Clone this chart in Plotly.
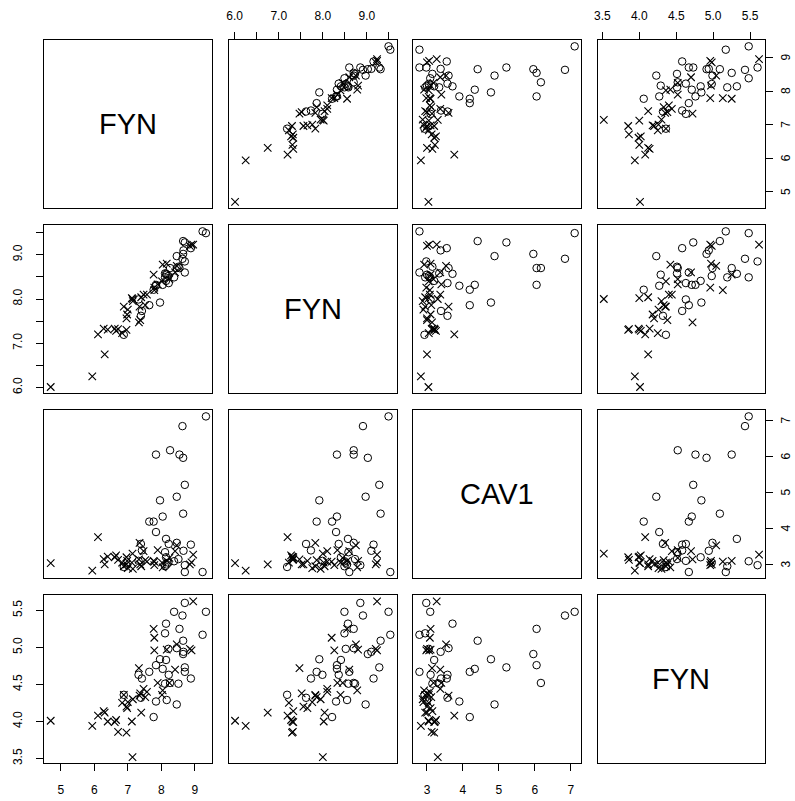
import plotly.graph_objects as go

# ---------------- data ----------------
var_labels = ["FYN", "FYN", "CAV1", "FYN"]

# group drawn with open circles
circ_v1 = [7.77, 7.32, 7.42, 6.88, 7.39, 7.64, 7.84, 7.96, 8.14, 8.04, 8.14, 8.11, 8.21, 8.38, 8.54, 8.70, 8.63,
           8.65, 8.46, 8.65, 8.70, 8.70, 8.22, 8.11, 8.26, 8.16, 8.46, 8.51, 8.88, 9.23, 9.33, 7.84, 8.66]
circ_v2 = [8.21, 7.99, 7.73, 7.19, 7.62, 7.86, 8.30, 7.92, 8.41, 8.32, 8.57, 8.49, 8.52, 8.49, 8.70, 8.85, 8.91,
           9.31, 8.70, 9.02, 9.28, 8.60, 8.36, 8.58, 8.70, 8.55, 8.97, 8.73, 9.15, 9.53, 9.49, 8.32, 9.10]
circ_v3 = [4.19, 3.10, 3.39, 2.93, 3.57, 4.19, 3.90, 4.78, 3.20, 4.33, 3.71, 2.95, 3.05, 3.09, 6.05, 2.98, 6.84,
           4.41, 3.60, 5.96, 5.21, 2.79, 3.57, 3.34, 6.17, 3.00, 4.88, 3.15, 3.55, 2.79, 7.11, 6.05, 3.38]
circ_v4 = [4.06, 4.63, 4.58, 4.36, 4.32, 4.67, 4.27, 4.84, 4.83, 4.71, 5.32, 5.19, 4.98, 5.48, 5.25, 5.60, 5.43,
           5.09, 4.99, 4.91, 4.73, 4.67, 4.63, 4.51, 4.52, 4.29, 4.23, 4.51, 4.58, 5.17, 5.48, 4.76, 4.94]

# group drawn with crosses
cross_v1 = [4.70, 5.94, 6.11, 6.28, 6.31, 6.40, 6.61, 6.65, 6.71, 6.96, 6.83, 6.88, 6.98, 7.00, 6.96, 7.12, 7.14,
            7.15, 7.33, 7.37, 7.40, 7.52, 7.57, 7.77, 7.79, 7.79, 7.89, 8.02, 8.04, 8.24, 8.41, 8.46, 8.85, 8.90,
            8.95, 8.16, 7.35, 7.47]
cross_v2 = [6.01, 6.25, 7.20, 7.33, 6.75, 7.31, 7.33, 7.28, 7.32, 7.30, 7.23, 7.83, 7.65, 7.76, 7.56, 8.02, 8.00,
            7.95, 7.47, 7.52, 8.04, 7.86, 8.10, 8.55, 8.20, 8.26, 8.33, 8.40, 8.78, 8.45, 8.60, 8.75, 9.20, 9.23,
            9.23, 8.80, 7.83, 8.10]
cross_v3 = [3.04, 2.83, 3.76, 3.15, 3.00, 3.22, 3.20, 3.25, 3.13, 3.20, 3.05, 2.95, 3.10, 2.90, 3.00, 3.05, 3.30,
            2.88, 3.14, 3.00, 2.95, 3.12, 3.08, 3.10, 3.08, 2.98, 3.40, 3.05, 2.92, 3.18, 3.37, 3.53, 3.00, 3.06,
            3.27, 3.10, 3.60, 3.37]
cross_v4 = [4.01, 3.94, 4.08, 4.14, 4.12, 4.00, 3.99, 4.02, 3.86, 3.85, 4.25, 4.36, 4.18, 4.26, 4.20, 4.00, 3.52,
            4.30, 4.72, 4.38, 4.12, 4.33, 4.40, 5.25, 5.13, 4.96, 4.52, 4.36, 4.42, 4.52, 4.70, 5.04, 4.98, 4.96,
            5.62, 4.97, 4.35, 4.44]

tick_vals = [
    [5, 6, 7, 8, 9],
    [6.0, 6.5, 7.0, 7.5, 8.0, 8.5, 9.0, 9.5],
    [3, 4, 5, 6, 7],
    [3.5, 4.0, 4.5, 5.0, 5.5],
]
tick_text = [
    ["5", "6", "7", "8", "9"],
    ["6.0", "", "7.0", "", "8.0", "", "9.0", ""],
    ["3", "4", "5", "6", "7"],
    ["3.5", "4.0", "4.5", "5.0", "5.5"],
]

# ---------------- layout geometry ----------------
W, H = 795, 801
left0, top0 = 40.7, 40.2
size = 168.5
pitch_x, pitch_y = 185.3, 185.5
right_label_px = 786.0

circ = [circ_v1, circ_v2, circ_v3, circ_v4]
cross = [cross_v1, cross_v2, cross_v3, cross_v4]


def rng(vals):
    lo, hi = min(vals), max(vals)
    pad = 0.04 * (hi - lo)
    return [lo - pad, hi + pad]


ranges = [rng(circ[i] + cross[i]) for i in range(4)]

FONT = "Liberation Sans, Arial, Helvetica, sans-serif"
fig = go.Figure()
layout = dict(
    width=W, height=H,
    margin=dict(l=0, r=0, t=0, b=0),
    paper_bgcolor="white", plot_bgcolor="white",
    showlegend=False,
    font=dict(family=FONT, size=12, color="black"),
)
annotations = []

for r in range(4):
    for c in range(4):
        idx = r * 4 + c + 1
        sfx = "" if idx == 1 else str(idx)
        x0 = left0 + c * pitch_x
        y0 = top0 + r * pitch_y
        xdom = [x0 / W, (x0 + size) / W]
        ydom = [1 - (y0 + size) / H, 1 - y0 / H]

        xa = dict(domain=xdom, anchor="y" + sfx, range=ranges[c], showgrid=False, zeroline=False,
                  showline=True, mirror=True, linecolor="black", linewidth=1,
                  ticks="", showticklabels=False, fixedrange=True)
        ya = dict(domain=ydom, anchor="x" + sfx, range=ranges[r], showgrid=False, zeroline=False,
                  showline=True, mirror=True, linecolor="black", linewidth=1,
                  ticks="", showticklabels=False, fixedrange=True)

        if (r == 3 and c % 2 == 0) or (r == 0 and c % 2 == 1):
            xa.update(side="bottom" if r == 3 else "top", ticks="outside", ticklen=7, tickwidth=1,
                      tickcolor="black", showticklabels=True, tickmode="array",
                      tickvals=tick_vals[c], ticktext=tick_text[c],
                      ticklabelstandoff=8 if r == 3 else 7,
                      tickfont=dict(family=FONT, size=12, color="black"))
        if c == 0 and r % 2 == 1:
            ya.update(side="left", ticks="outside", ticklen=7, tickwidth=1,
                      tickcolor="black", showticklabels=True, tickmode="array",
                      tickvals=tick_vals[r], ticktext=tick_text[r], tickangle=-90,
                      ticklabelstandoff=10,
                      tickfont=dict(family=FONT, size=12, color="black"))
        if c == 3 and r % 2 == 0:
            ya.update(side="right", ticks="outside", ticklen=7, tickwidth=1,
                      tickcolor="black", showticklabels=False, tickmode="array",
                      tickvals=tick_vals[r])
            for v, t in zip(tick_vals[r], tick_text[r]):
                annotations.append(dict(
                    xref="paper", yref="y" + sfx, x=right_label_px / W, y=v, text=t,
                    textangle=-90, showarrow=False, xanchor="center", yanchor="middle",
                    font=dict(family=FONT, size=12, color="black")))

        layout["xaxis" + sfx] = xa
        layout["yaxis" + sfx] = ya

        if r == c:
            # empty trace so the panel box is drawn
            fig.add_trace(go.Scatter(x=[], y=[], mode="markers", xaxis="x" + sfx, yaxis="y" + sfx,
                                     hoverinfo="skip"))
            annotations.append(dict(
                xref="x" + sfx + " domain", yref="y" + sfx + " domain", x=0.5, y=0.5,
                text=var_labels[r], showarrow=False, xanchor="center", yanchor="middle",
                font=dict(family=FONT, size=29, color="black")))
            continue

        fig.add_trace(go.Scatter(
            x=circ[c], y=circ[r], mode="markers", xaxis="x" + sfx, yaxis="y" + sfx,
            marker=dict(symbol="circle-open", size=7.5, color="black",
                        line=dict(color="black", width=1)),
            hoverinfo="skip"))
        fig.add_trace(go.Scatter(
            x=cross[c], y=cross[r], mode="markers", xaxis="x" + sfx, yaxis="y" + sfx,
            marker=dict(symbol="x-thin-open", size=7.5, color="black",
                        line=dict(color="black", width=1.1)),
            hoverinfo="skip"))

layout["annotations"] = annotations
fig.update_layout(**layout)
fig.write_html(
    "out.html",
    config={"displayModeBar": False},
    post_script="document.body.style.margin='0';document.body.style.padding='0';"
                "document.body.style.overflow='hidden';",
)
